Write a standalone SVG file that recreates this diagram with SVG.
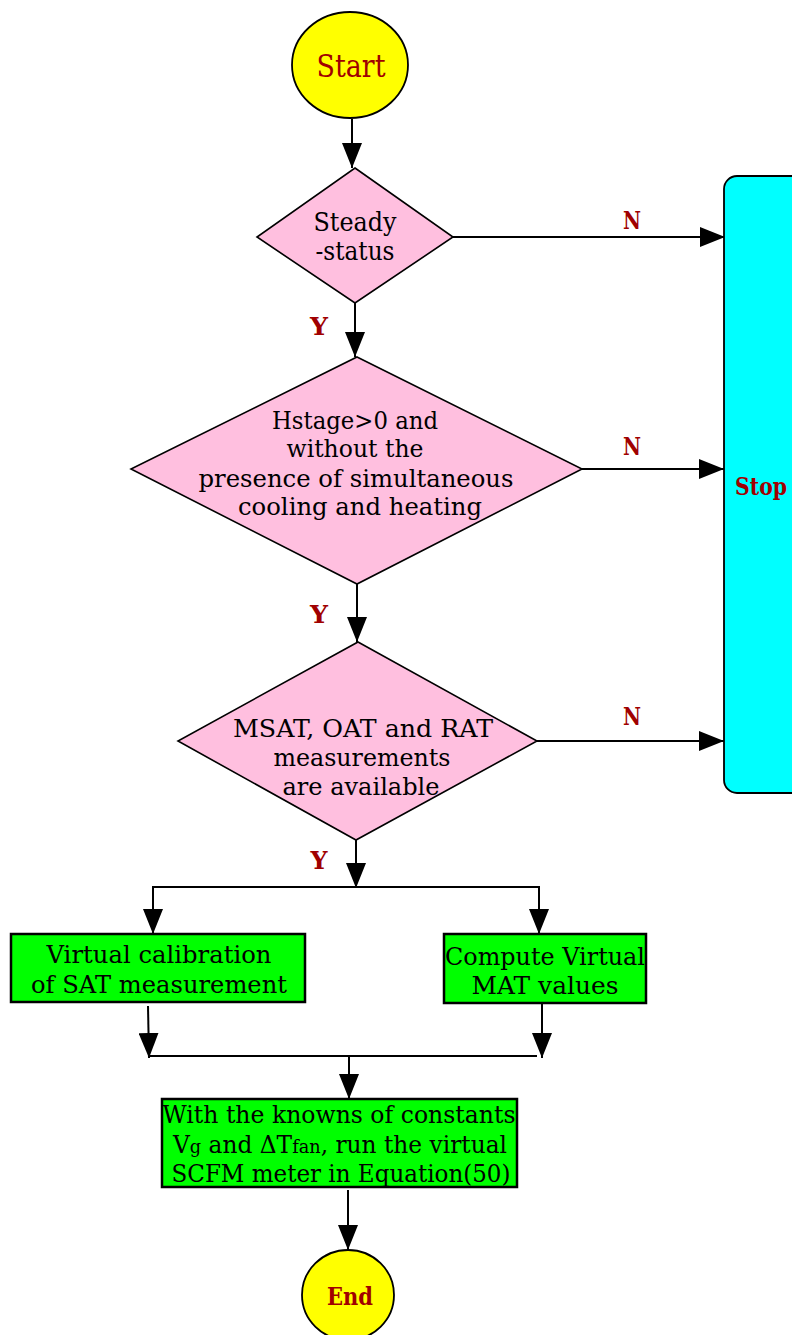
<svg xmlns="http://www.w3.org/2000/svg" width="792" height="1335" viewBox="0 0 792 1335">
<defs>
<marker id="ah" markerUnits="userSpaceOnUse" markerWidth="26" markerHeight="20" refX="25" refY="10" orient="auto">
<path d="M0,0 L25,10 L0,20 Z" fill="#000"/>
</marker>
<style>
.t{font-family:"DejaVu Serif","Liberation Serif",serif;font-size:25px;fill:#000;text-anchor:middle}
.r{font-family:"DejaVu Serif","Liberation Serif",serif;font-weight:bold;fill:#a00000;text-anchor:middle}
.l{font-family:"DejaVu Serif","Liberation Serif",serif;font-weight:bold;fill:#a00000;font-size:24px;text-anchor:middle}
.c{stroke:#000;stroke-width:2;fill:none}
.ca{stroke:#000;stroke-width:2;fill:none;marker-end:url(#ah)}
.dia{fill:#ffbfdf;stroke:#000;stroke-width:1.6}
.box{fill:#00ff00;stroke:#000;stroke-width:2.5}
.term{fill:#ffff00;stroke:#000;stroke-width:1.8}
</style>
</defs>
<rect width="792" height="1335" fill="#fff"/>
<g id="connectors">
<line class="ca" x1="352" y1="119" x2="352" y2="168"/>
<line class="ca" x1="453" y1="237" x2="725" y2="237"/>
<line class="ca" x1="355" y1="303" x2="355" y2="357"/>
<line class="ca" x1="582" y1="469" x2="724" y2="469"/>
<line class="ca" x1="357" y1="584" x2="357" y2="642"/>
<line class="ca" x1="537" y1="741" x2="724" y2="741"/>
<line class="ca" x1="356" y1="840" x2="356" y2="888"/>
<line class="c" x1="153" y1="887" x2="539" y2="887"/>
<line class="ca" x1="153" y1="886" x2="153" y2="934"/>
<line class="ca" x1="539" y1="886" x2="539" y2="934"/>
<line class="ca" x1="148" y1="1006" x2="149" y2="1058"/>
<line class="ca" x1="542" y1="1004" x2="542" y2="1058"/>
<line class="c" x1="150" y1="1056" x2="537" y2="1056"/>
<line class="ca" x1="349" y1="1055" x2="349" y2="1099"/>
<line class="ca" x1="348" y1="1190" x2="348" y2="1250"/>
<text class="l" x="632" y="229" textLength="18" lengthAdjust="spacingAndGlyphs">N</text>
<text class="l" x="632" y="455" textLength="18" lengthAdjust="spacingAndGlyphs">N</text>
<text class="l" x="632" y="725" textLength="18" lengthAdjust="spacingAndGlyphs">N</text>
<text class="l" x="319" y="335" textLength="18" lengthAdjust="spacingAndGlyphs">Y</text>
<text class="l" x="319" y="623" textLength="18" lengthAdjust="spacingAndGlyphs">Y</text>
<text class="l" x="319" y="869" textLength="17" lengthAdjust="spacingAndGlyphs">Y</text>
</g>
<g id="start">
<ellipse class="term" cx="350" cy="65" rx="58" ry="53"/>
<text class="r" x="351" y="77" style="font-size:31px;font-weight:normal" textLength="69" lengthAdjust="spacingAndGlyphs">Start</text>
</g>
<g id="stop">
<rect x="724" y="176" width="90" height="617" rx="13" fill="#00ffff" stroke="#000" stroke-width="1.8"/>
<text class="r" x="761" y="495" style="font-size:25px" textLength="52" lengthAdjust="spacingAndGlyphs">Stop</text>
</g>
<g id="steady">
<polygon class="dia" points="355,168 453,237 355,303 257,237"/>
<text class="t" x="355" y="231" style="font-size:26px" textLength="83" lengthAdjust="spacingAndGlyphs">Steady</text>
<text class="t" x="355" y="260" style="font-size:26px" textLength="79" lengthAdjust="spacingAndGlyphs">-status</text>
</g>
<g id="hstage">
<polygon class="dia" points="357,357 582,469 357,584 131,469"/>
<text class="t" x="355" y="429" textLength="166" lengthAdjust="spacingAndGlyphs">Hstage&gt;0 and</text>
<text class="t" x="355" y="457" textLength="137" lengthAdjust="spacingAndGlyphs">without the</text>
<text class="t" x="356" y="487" textLength="315" lengthAdjust="spacingAndGlyphs">presence of simultaneous</text>
<text class="t" x="360" y="515" textLength="244" lengthAdjust="spacingAndGlyphs">cooling and heating</text>
</g>
<g id="measure">
<polygon class="dia" points="358,642 537,741 356,840 178,741"/>
<text class="t" x="363" y="737" textLength="260" lengthAdjust="spacingAndGlyphs">MSAT, OAT and RAT</text>
<text class="t" x="362" y="766" textLength="177" lengthAdjust="spacingAndGlyphs">measurements</text>
<text class="t" x="361" y="795" textLength="157" lengthAdjust="spacingAndGlyphs">are available</text>
</g>
<g id="calib">
<rect class="box" x="11" y="934" width="294" height="68"/>
<text class="t" x="159" y="963" textLength="225" lengthAdjust="spacingAndGlyphs">Virtual calibration</text>
<text class="t" x="159" y="993" textLength="256" lengthAdjust="spacingAndGlyphs">of SAT measurement</text>
</g>
<g id="mat">
<rect class="box" x="444" y="934" width="202" height="69"/>
<text class="t" x="545" y="965" textLength="200" lengthAdjust="spacingAndGlyphs">Compute Virtual</text>
<text class="t" x="545" y="994" textLength="147" lengthAdjust="spacingAndGlyphs">MAT values</text>
</g>
<g id="scfm">
<rect class="box" x="162" y="1099" width="355" height="88"/>
<text class="t" x="339" y="1123" textLength="353" lengthAdjust="spacingAndGlyphs">With the knowns of constants</text>
<text class="t" x="340" y="1153" textLength="334" lengthAdjust="spacingAndGlyphs">V<tspan style="font-size:19px">g</tspan> and ΔT<tspan style="font-size:19px">fan</tspan>, run the virtual</text>
<text class="t" x="341" y="1182" textLength="339" lengthAdjust="spacingAndGlyphs">SCFM meter in Equation(50)</text>
</g>
<g id="end">
<ellipse class="term" cx="348" cy="1295" rx="46" ry="45"/>
<text class="r" x="350" y="1305" style="font-size:25px" textLength="46" lengthAdjust="spacingAndGlyphs">End</text>
</g>
</svg>
